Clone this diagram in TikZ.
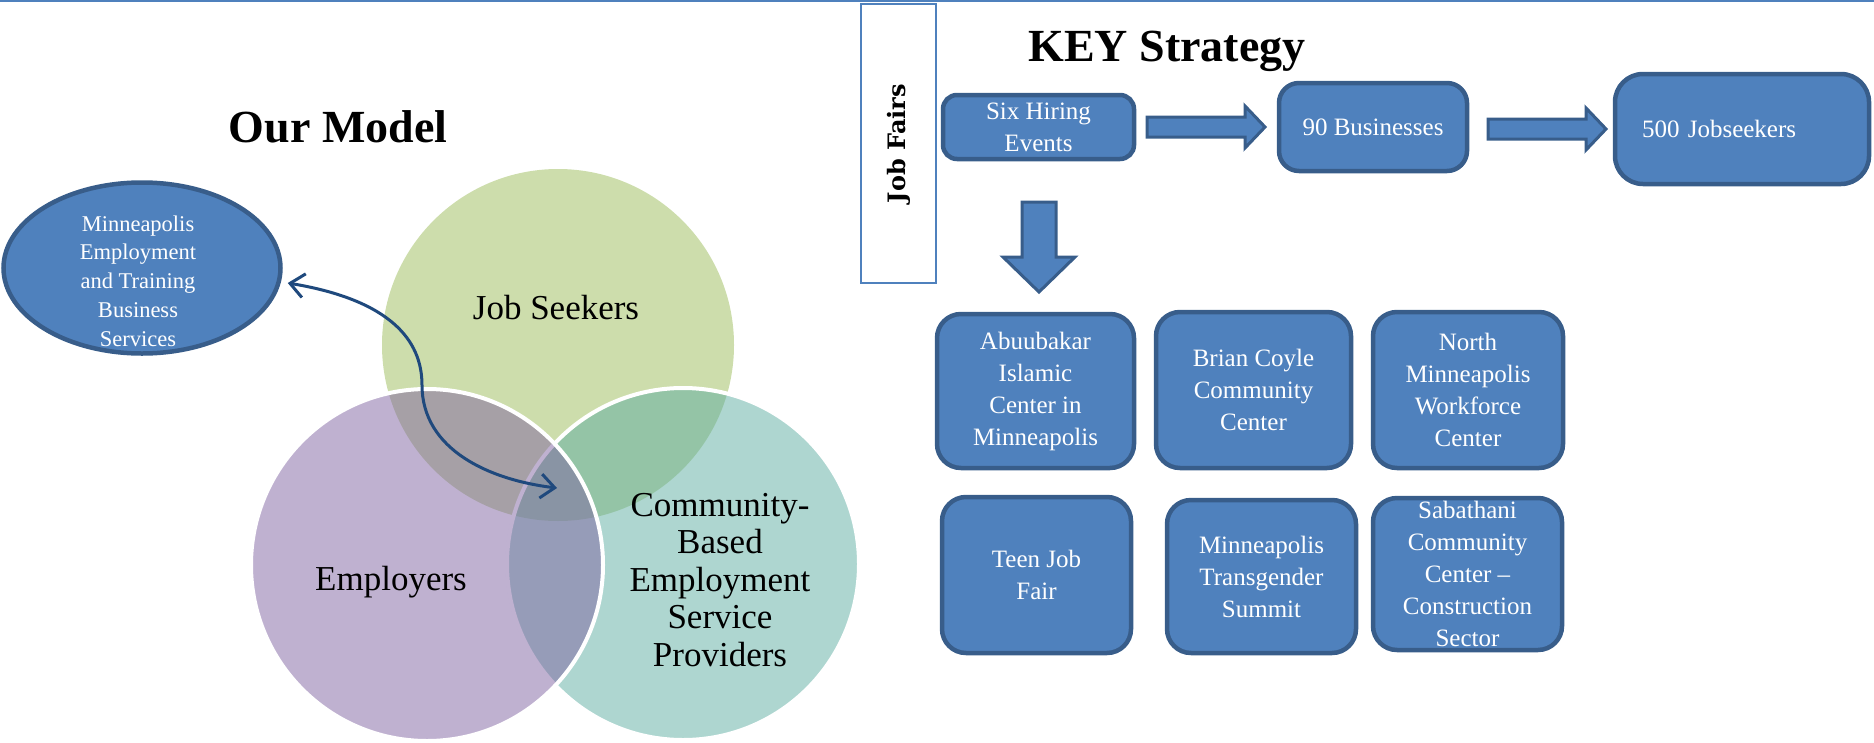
\documentclass[tikz,border=0pt]{standalone}
\usepackage{fontspec}
\setmainfont{Liberation Serif}
\newfontfamily\jfont{DejaVu Serif}
\usetikzlibrary{arrows.meta,shapes.geometric}
\definecolor{boxfill}{HTML}{4F81BD}
\definecolor{boxline}{HTML}{385D8A}
\definecolor{vgreen}{HTML}{9BBB59}
\definecolor{vteal}{HTML}{5DADA1}
\definecolor{vpurple}{HTML}{8064A2}
\definecolor{arrowblue}{HTML}{1F497D}
\begin{document}
\begin{tikzpicture}[x=1pt,y=-1pt,
  box/.style={draw=boxline, line width=4.5pt, fill=boxfill, rounded corners=24pt,
    text=white, font=\fontsize{25}{32}\selectfont, align=center, inner sep=0pt},
  venn/.style={fill opacity=0.5, draw=white, line width=4pt},
  venntext/.style={font=\fontsize{35}{37.5}\selectfont, align=center, text=black},
  blockarrow/.style={draw=boxline, line width=3pt, fill=boxfill, line join=miter},
  titletext/.style={font=\fontsize{46}{50}\selectfont\bfseries, anchor=base}
]
\useasboundingbox (0,0) rectangle (1874,742);
\draw[boxfill, line width=2pt] (0,1) -- (1874,1);

% Venn
\fill[vgreen, fill opacity=0.5] (558,345) circle[radius=176];
\draw[venn, fill=vteal] (683,564) circle[radius=176];
\draw[venn, fill=vpurple] (427,565) circle[radius=176];
\node[venntext] (js) at (556,308) {Job Seekers};
\node[venntext] (emp) at (391,582) {Employers};
\node[venntext] (cbe) at (720,580) {Community-\\Based\\Employment\\Service\\Providers};

% titles
\node[titletext] (om) at (338,142) {Our Model};
\node[titletext] (ks) at (1167,61) {KEY Strategy};

% Minneapolis ellipse
\node[ellipse, draw=boxline, line width=4.5pt, fill=boxfill, minimum width=277,
  minimum height=171, inner sep=0pt] (mpls) at (142,268) {};
\node[font=\fontsize{22.5}{28.8}\selectfont, text=white, align=center] (mplst) at (138,281)
  {Minneapolis\\Employment\\and Training\\Business\\Services};

\coordinate (lens) at (557,488);
\draw[arrowblue, line width=3pt,
  {Straight Barb[length=14pt,width=24pt]}-{Straight Barb[length=14pt,width=24pt]}]
  ([shift={(5,15)}]mpls.east) .. controls (390,300) and (422,340) .. (422,385)
  .. controls (422,450) and (490,480) .. (lens);

% Job Fairs
\node[draw=boxfill, line width=2pt, fill=white, rotate=90, minimum width=279,
  minimum height=75, inner sep=0pt, font=\jfont\bfseries\fontsize{24}{24}\selectfont]
  (jf) at (898.5,143.5) {Job Fairs};

% top row
\node[box, rounded corners=14pt, minimum width=191, minimum height=64] (six) at (1038.5,127) {Six Hiring\\Events};
\node[box, rounded corners=20pt, minimum width=188, minimum height=88] (biz) at (1373,127) {90 Businesses};
\node[box, rounded corners=28pt, minimum width=254, minimum height=110, text width=200, align=left] (jobs) at (1742,129) {500 Jobseekers};

% block arrows
\draw[blockarrow] (1147,117) -- (1245,117) -- (1245,106) -- (1265,127) -- (1245,148) -- (1245,137) -- (1147,137) -- cycle;
\draw[blockarrow] (1488,119) -- (1586,119) -- (1586,108) -- (1606,129) -- (1586,150) -- (1586,139) -- (1488,139) -- cycle;
\draw[blockarrow] (1022,202) -- (1056,202) -- (1056,257) -- (1075,257) -- (1039,292) -- (1003,257) -- (1022,257) -- cycle;

% grid
\node[box, minimum width=197, minimum height=154] (abu) at (1035.5,391) {Abuubakar\\Islamic\\Center in\\Minneapolis};
\node[box, minimum width=195, minimum height=156] (bc) at (1253.5,390) {Brian Coyle\\Community\\Center};
\node[box, minimum width=190, minimum height=156] (nm) at (1468,390) {North\\Minneapolis\\Workforce\\Center};
\node[box, minimum width=189, minimum height=156] (teen) at (1036.5,575) {Teen Job\\Fair};
\node[box, minimum width=189, minimum height=153] (trans) at (1261.5,576.5) {Minneapolis\\Transgender\\Summit};
\node[box, minimum width=189, minimum height=152] (sab) at (1467.5,574) {Sabathani\\Community\\Center –\\Construction\\Sector};
\end{tikzpicture}
\end{document}
